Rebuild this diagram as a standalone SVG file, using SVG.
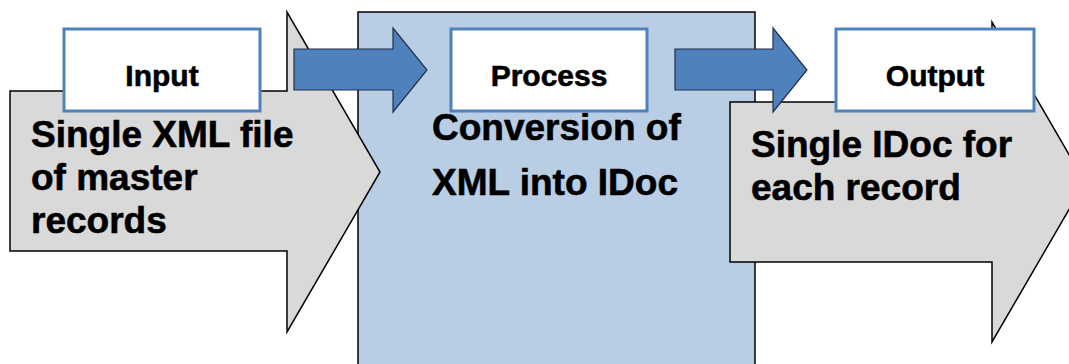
<svg xmlns="http://www.w3.org/2000/svg" width="1069" height="364" viewBox="0 0 1069 364">
  <style>
    .stage { fill: #d9d9d9; stroke: #000; stroke-width: 1.5; }
    .panel { fill: #b9cde5; stroke: #000; stroke-width: 1.5; }
    .flow { fill: #4f81bd; stroke: #1f2f4a; stroke-width: 1.2; }
    .label { fill: #fff; stroke: #4f81bd; stroke-width: 3; }
    text { font-family: "Liberation Sans", Arial, sans-serif; font-weight: bold; fill: #000; stroke: #000; stroke-width: 0.6; }
    .ltxt { font-size: 30px; text-anchor: middle; }
    .btxt { font-size: 37px; }
  </style>

  <!-- process panel -->
  <g id="process">
    <rect class="panel" x="358" y="12" width="397" height="360"/>
    <text class="btxt" x="432" y="140">Conversion of</text>
    <text class="btxt" x="432" y="195">XML into IDoc</text>
  </g>

  <!-- input stage -->
  <g id="input">
    <polygon class="stage" points="10,91 287,91 287,12 380,172 287,332 287,251 10,251"/>
    <text class="btxt" x="31" y="147">Single XML file</text>
    <text class="btxt" x="31" y="190">of master</text>
    <text class="btxt" x="31" y="233">records</text>
  </g>

  <!-- output stage -->
  <g id="output">
    <polygon class="stage" points="730,102 992,102 992,22 1085,182 992,342 992,262 730,262"/>
    <text class="btxt" x="751" y="157">Single IDoc for</text>
    <text class="btxt" x="751" y="200">each record</text>
  </g>

  <!-- connectors between stages -->
  <g id="connectors">
    <polygon class="flow" points="294,49 393,49 393,28 427,70 393,112 393,90 294,90"/>
    <polygon class="flow" points="675,49 773,49 773,28 807,70 773,112 773,90 675,90"/>
  </g>

  <!-- stage titles -->
  <g id="input-label">
    <rect class="label" x="64" y="29" width="196" height="82"/>
    <text class="ltxt" x="162" y="86">Input</text>
  </g>
  <g id="process-label">
    <rect class="label" x="451" y="29" width="196" height="82"/>
    <text class="ltxt" x="549" y="86">Process</text>
  </g>
  <g id="output-label">
    <rect class="label" x="836" y="29" width="198" height="82"/>
    <text class="ltxt" x="935" y="86">Output</text>
  </g>
</svg>
